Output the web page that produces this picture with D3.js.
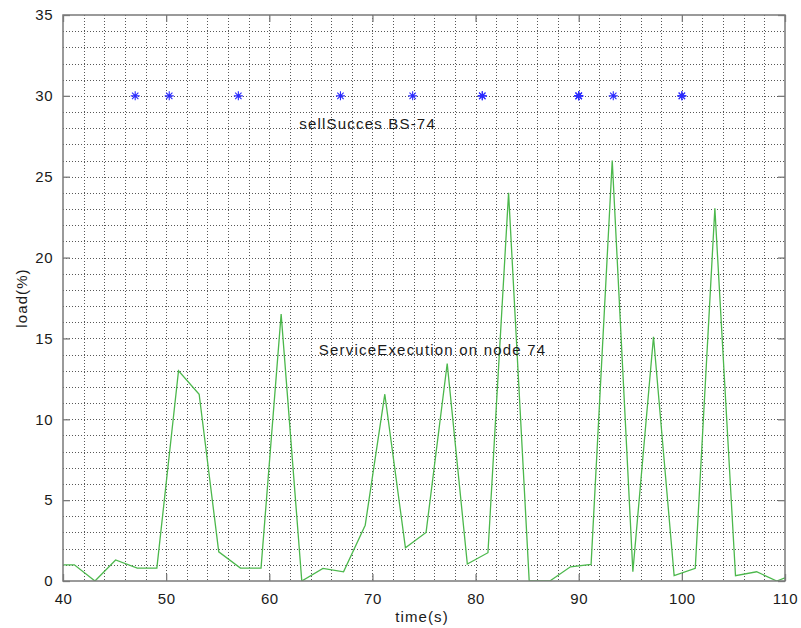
<!DOCTYPE html>
<html>
<head>
<meta charset="utf-8">
<script src="https://cdn.jsdelivr.net/npm/d3@7"></script>
<style>
  html, body { margin: 0; padding: 0; background: #fff; }
  svg { display: block; font-family: "Liberation Sans", Arial, sans-serif; }
</style>
</head>
<body>
<svg id="chart" width="801" height="628"></svg>
<script>
// ---- data ----
const loadTimes = [40, 41.1, 43.1, 45.1, 47.2, 49.1, 51.2, 53.2, 55.1, 57.2, 59.2, 61.15, 63.15, 65.2, 67.2, 69.3, 71.2, 73.2, 75.2, 77.25, 79.2, 81.2, 83.2, 85.2, 87.2, 89.2, 91.2, 93.25, 95.25, 97.25, 99.25, 101.3, 103.2, 105.2, 107.25, 109.2, 110];
const loadValues = [1, 1, 0, 1.3, 0.8, 0.8, 13, 11.55, 1.8, 0.8, 0.8, 16.5, 0, 0.78, 0.57, 3.45, 11.55, 2.05, 3.0, 13.45, 1.05, 1.75, 24.0, 0, 0, 0.88, 1.03, 26.0, 0.58, 15.1, 0.33, 0.78, 23.05, 0.33, 0.57, 0, 0.2];
const sellTimes = [47, 50.3, 57, 66.9, 73.9, 80.65, 80.65, 90, 90, 90, 93.35, 100, 100];
const sellValues = [30, 30, 30, 30, 30, 30, 30, 30, 30, 30, 30, 30, 30];
const xTicks = [40, 50, 60, 70, 80, 90, 100, 110];
const yTicks = [0, 5, 10, 15, 20, 25, 30, 35];
const xGrid = d3.range(40, 111, 2);
const yGrid = d3.range(0, 36, 1);
const xLabel = "time(s)";
const yLabel = "load(%)";
const annotations = [
  { text: "sellSucces BS-74", x: 62.9, y: 27.95 },
  { text: "ServiceExecution on node 74", x: 64.8, y: 13.98 }
];

// ---- layout ----
const svg = d3.select("#chart");
const L = 63, R = 785, T = 15, B = 581;
const x = d3.scaleLinear().domain([40, 110]).range([L, R]);
const y = d3.scaleLinear().domain([0, 35]).range([B, T]);

// grid
const grid = svg.append("g").attr("stroke", "#3a3a3a").attr("stroke-width", 1)
  .attr("stroke-dasharray", "1,2").attr("opacity", 0.85);
grid.selectAll(".gx").data(xGrid.filter(v => v > 40 && v < 110)).enter().append("line")
  .attr("x1", d => Math.round(x(d)) + 0.5).attr("x2", d => Math.round(x(d)) + 0.5)
  .attr("y1", T).attr("y2", B);
grid.selectAll(".gy").data(yGrid.filter(v => v > 0 && v < 35)).enter().append("line")
  .attr("y1", d => Math.round(y(d)) + 0.5).attr("y2", d => Math.round(y(d)) + 0.5)
  .attr("x1", L).attr("x2", R);

// clip
svg.append("clipPath").attr("id", "clip").append("rect")
  .attr("x", L).attr("y", T).attr("width", R - L).attr("height", B - T);

// load line
const line = d3.line().x((d, i) => x(loadTimes[i])).y(d => y(d));
svg.append("path").datum(loadValues)
  .attr("clip-path", "url(#clip)")
  .attr("fill", "none").attr("stroke", "#4cb84c").attr("stroke-width", 1.3)
  .attr("d", line);

// sell success stars
const starPath = (r) => {
  let p = "";
  for (let k = 0; k < 4; k++) {
    const a = k * Math.PI / 4;
    const dx = r * Math.cos(a), dy = r * Math.sin(a);
    p += `M${-dx},${-dy}L${dx},${dy}`;
  }
  return p;
};
svg.append("g").selectAll("path").data(sellTimes).enter().append("path")
  .attr("transform", (d, i) => `translate(${x(d)},${y(sellValues[i])})`)
  .attr("d", starPath(4.5))
  .attr("stroke", "#2a2aff").attr("stroke-width", 1.1).attr("fill", "none");

// box
const axisColor = "#7a7a7a";
svg.append("rect").attr("x", L).attr("y", T).attr("width", R - L).attr("height", B - T)
  .attr("fill", "none").attr("stroke", axisColor).attr("stroke-width", 1.5);

// axes with inward ticks
const xAxisB = d3.axisBottom(x).tickValues(xTicks).tickSizeInner(-7).tickSizeOuter(0).tickPadding(12);
const yAxisL = d3.axisLeft(y).tickValues(yTicks).tickSizeInner(-7).tickSizeOuter(0).tickPadding(10);
const xAxisT = d3.axisTop(x).tickValues(xTicks).tickSizeInner(-7).tickSizeOuter(0).tickFormat("");
const yAxisR = d3.axisRight(y).tickValues(yTicks).tickSizeInner(-7).tickSizeOuter(0).tickFormat("");

function styleAxis(g) {
  g.select(".domain").remove();
  g.selectAll(".tick line").attr("stroke", axisColor).attr("stroke-width", 1.3);
  g.selectAll(".tick text").attr("fill", "#1a1a1a").attr("font-size", 15)
    .attr("letter-spacing", 0.5)
    .attr("font-family", "'Liberation Sans', Arial, sans-serif");
}
svg.append("g").attr("transform", `translate(0,${B})`).call(xAxisB).call(styleAxis);
svg.append("g").attr("transform", `translate(${L},0)`).call(yAxisL).call(styleAxis);
svg.append("g").attr("transform", `translate(0,${T})`).call(xAxisT).call(styleAxis);
svg.append("g").attr("transform", `translate(${R},0)`).call(yAxisR).call(styleAxis);

// axis labels
svg.append("text").attr("x", 422).attr("y", 622).attr("text-anchor", "middle")
  .attr("font-size", 15).attr("letter-spacing", 1.1).attr("fill", "#1a1a1a").text(xLabel);
svg.append("text").attr("transform", "translate(27,298) rotate(-90)").attr("text-anchor", "middle")
  .attr("font-size", 15).attr("letter-spacing", 1.1).attr("fill", "#1a1a1a").text(yLabel);

// annotations
svg.append("g").selectAll("text").data(annotations).enter().append("text")
  .attr("x", d => x(d.x)).attr("y", d => y(d.y))
  .attr("font-size", 15).attr("letter-spacing", 1.2).attr("fill", "#1a1a1a").text(d => d.text);
</script>
</body>
</html>
